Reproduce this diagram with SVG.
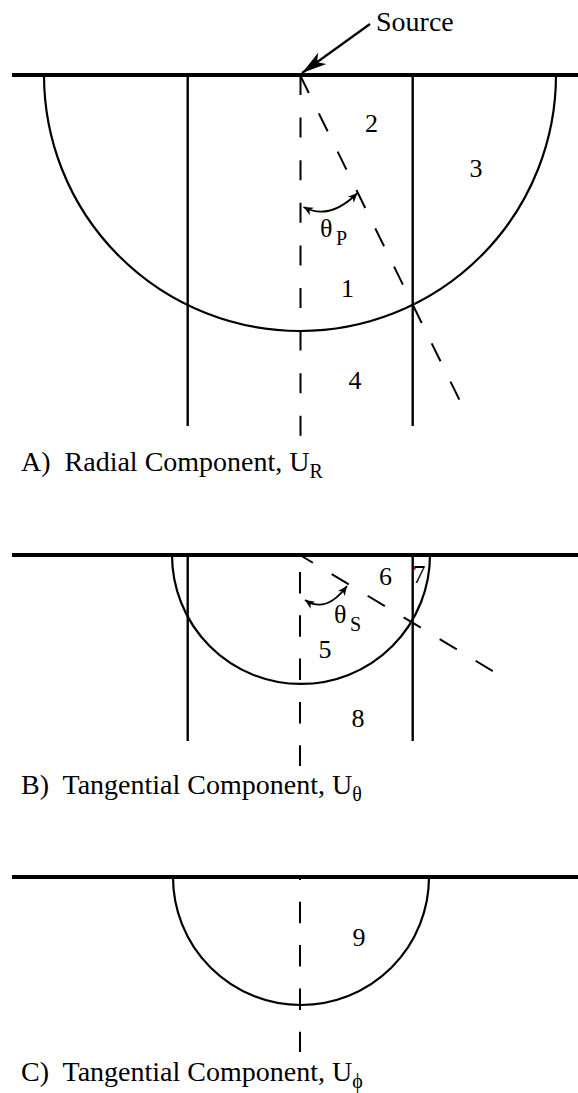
<svg xmlns="http://www.w3.org/2000/svg" width="578" height="1093" viewBox="0 0 578 1093">
<style>
  .surf { stroke: #000; stroke-width: 4; fill: none; }
  .ln { stroke: #000; stroke-width: 2.4; fill: none; }
  .arc { stroke: #000; stroke-width: 2.2; fill: none; }
  .dash { stroke: #000; stroke-width: 2; fill: none; }
  .ang { stroke: #000; stroke-width: 1.8; fill: none; marker-start: url(#ah); marker-end: url(#ah); }
  .lbl { font-size: 26px; text-anchor: middle; }
  .cap { font-size: 28px; }
  .sub { font-size: 20px; }
</style>
<defs>
  <marker id="ah" markerUnits="userSpaceOnUse" viewBox="-10 -5 11 10" refX="0" refY="0" markerWidth="11" markerHeight="10" orient="auto-start-reverse">
    <path d="M0,0 L-9.5,-4.2 L-6.8,0 L-9.5,4.2 Z" fill="#000"/>
  </marker>
  <marker id="big" markerUnits="userSpaceOnUse" viewBox="-26 -8 27 16" refX="0" refY="0" markerWidth="27" markerHeight="16" orient="auto">
    <path d="M0,0 L-25,-7 L-18.5,0 L-25,7 Z" fill="#000"/>
  </marker>
</defs>

<g id="sectionA">
  <line class="surf" x1="12" y1="75" x2="578" y2="75"/>
  <path class="arc" d="M44,75 A256,256 0 0 0 556,75"/>
  <line class="ln" x1="187.7" y1="75" x2="187.7" y2="426"/>
  <line class="ln" x1="412.7" y1="75" x2="412.7" y2="426"/>
</g>
<g id="sectionB">
  <line class="surf" x1="12" y1="555" x2="578" y2="555"/>
  <path class="arc" d="M172,555 A129,129 0 0 0 430,555"/>
  <line class="ln" x1="187.7" y1="555" x2="187.7" y2="741"/>
  <line class="ln" x1="412.7" y1="555" x2="412.7" y2="741"/>
</g>
<g id="sectionC">
  <line class="surf" x1="12" y1="877" x2="578" y2="877"/>
  <path class="arc" d="M173,877 A128,128 0 0 0 429,877"/>
</g>

<g id="connectors">
  <line class="dash" x1="300.5" y1="75" x2="300.5" y2="437" stroke-dasharray="20 22.6"/>
  <line class="dash" x1="300" y1="75" x2="460" y2="401" stroke-dasharray="20 22.7"/>
  <line class="dash" x1="300" y1="572" x2="300" y2="766" stroke-dasharray="21.5 21.8"/>
  <line class="dash" x1="300" y1="555" x2="496" y2="673" stroke-dasharray="20 22" stroke-dashoffset="5"/>
  <line class="dash" x1="300" y1="877" x2="300" y2="1052" stroke-dasharray="21.5 21.8" stroke-dashoffset="18.5"/>
  <path class="ang" d="M303.5,207 Q329.5,221 357.5,193"/>
  <path class="ang" d="M305,600 Q326,614 347,586"/>
  <line x1="370" y1="24" x2="302" y2="73" stroke="#000" stroke-width="2.2" marker-end="url(#big)"/>
</g>

<g font-family="'Liberation Serif', 'Times New Roman', 'DejaVu Serif', serif" fill="#000">
<g id="source"><text class="cap" x="376" y="31" font-family="Liberation Serif, serif">Source</text></g>
<g id="r1"><text class="lbl" x="347.5" y="297" font-family="Liberation Serif, serif">1</text></g>
<g id="r2"><text class="lbl" x="371.5" y="132" font-family="Liberation Serif, serif">2</text></g>
<g id="r3"><text class="lbl" x="476" y="177" font-family="Liberation Serif, serif">3</text></g>
<g id="r4"><text class="lbl" x="355" y="389" font-family="Liberation Serif, serif">4</text></g>
<g id="r5"><text class="lbl" x="325" y="658" font-family="Liberation Serif, serif">5</text></g>
<g id="r6"><text class="lbl" x="385.5" y="585" font-family="Liberation Serif, serif">6</text></g>
<g id="r7"><text class="lbl" x="419" y="583" font-family="Liberation Serif, serif">7</text></g>
<g id="r8"><text class="lbl" x="358" y="727" font-family="Liberation Serif, serif">8</text></g>
<g id="r9"><text class="lbl" x="359" y="946" font-family="Liberation Serif, serif">9</text></g>
<g id="thetaP"><text x="320" y="236.5" font-size="26" font-family="Liberation Serif, serif">θ<tspan class="sub" x="336" y="245">P</tspan></text></g>
<g id="thetaS"><text x="334" y="623" font-size="26" font-family="Liberation Serif, serif">θ<tspan class="sub" x="350" y="630.5">S</tspan></text></g>

<g id="captionA"><text class="cap" x="21" y="471" xml:space="preserve" font-family="Liberation Serif, serif">A)  Radial Component, U<tspan class="sub" dy="7">R</tspan></text></g>
<g id="captionB"><text class="cap" x="21" y="794" xml:space="preserve" font-family="Liberation Serif, serif">B)  Tangential Component, U<tspan class="sub" dy="7">θ</tspan></text></g>
<g id="captionC"><text class="cap" x="21" y="1081" xml:space="preserve" font-family="Liberation Serif, serif">C)  Tangential Component, U<tspan class="sub" dy="7">ϕ</tspan></text></g>
</g>
</svg>
